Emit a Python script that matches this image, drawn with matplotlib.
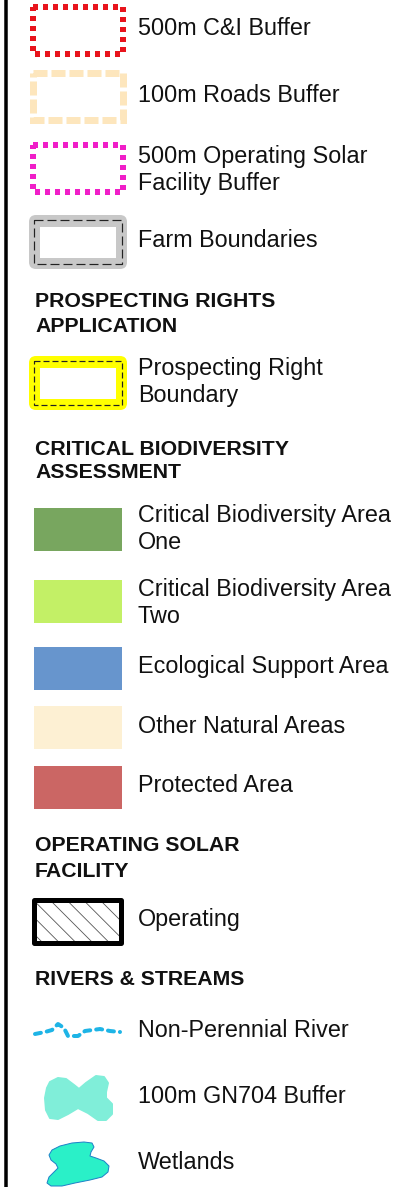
import numpy as np
import matplotlib
matplotlib.use("Agg")
import matplotlib.pyplot as plt
from matplotlib.patches import Rectangle, FancyBboxPatch, Polygon

plt.rcParams['font.family'] = ['Liberation Sans', 'DejaVu Sans']
plt.rcParams['lines.scale_dashes'] = False
plt.rcParams['hatch.linewidth'] = 0.6

# legend content
outline_labels = ["500m C&I Buffer", "100m Roads Buffer",
                  "500m Operating Solar\nFacility Buffer", "Farm Boundaries"]
outline_colors = ["#e8141c", "#fde6bd", "#f01ec8", "#c8c8c8"]

headings = ["PROSPECTING RIGHTS\nAPPLICATION", "CRITICAL BIODIVERSITY\nASSESSMENT",
            "OPERATING SOLAR\nFACILITY", "RIVERS & STREAMS"]

prospect_label = "Prospecting Right\nBoundary"
prospect_color = "#ffff00"

cba_labels = ["Critical Biodiversity Area\nOne", "Critical Biodiversity Area\nTwo",
              "Ecological Support Area", "Other Natural Areas", "Protected Area"]
cba_colors = ["#78a65f", "#c3f066", "#6795cd", "#fdf0d3", "#cb6664"]

solar_label = "Operating"

river_labels = ["Non-Perennial River", "100m GN704 Buffer", "Wetlands"]
river_colors = ["#1eb4e6", "#80eed9", "#2af0c8"]

# layout (pixels, y down)
W, H = 414, 1187
TX = 138
PX = 0.72  # px -> pt at dpi 100
outline_tops = [7, 73, 145]
outline_base = [35, 102, 163, 247]
heading_base = [307, 455, 851, 985]
cba_tops = [508, 580, 647, 706, 766]
cba_base = [522, 596, 673, 733, 792]

fig = plt.figure(figsize=(W / 100, H / 100), dpi=100)
ax = fig.add_axes([0, 0, 1, 1])
ax.set_xlim(0, W)
ax.set_ylim(H, 0)
ax.axis('off')


def label(y, txt, bold=False, x=TX, step=27):
    for i, line in enumerate(txt.split("\n")):
        ax.text(x, y + i * step, line, va='baseline', ha='left',
                fontsize=15.3 if bold else 16.8,
                fontweight='bold' if bold else 'normal', color='#111111')


# left frame line
ax.plot([6.5, 6.5], [0, H], color='black', lw=3.5 * PX, solid_capstyle='butt')

# dashed buffer outlines
dash_styles = [(0, (5 * PX, 5 * PX)), (0, (14 * PX, 4 * PX)), (0, (5 * PX, 5 * PX))]
line_w = [6, 7, 6]
for i in range(3):
    ax.add_patch(Rectangle((33, outline_tops[i]), 90, 47, fill=False,
                           edgecolor=outline_colors[i], lw=line_w[i] * PX,
                           linestyle=dash_styles[i], capstyle='butt'))
    label(outline_base[i], outline_labels[i])


def boundary(top, color, dash):
    ax.add_patch(FancyBboxPatch((29, top + 1), 98, 54, boxstyle="round,pad=0,rounding_size=7",
                                facecolor=color, edgecolor='none'))
    ax.add_patch(Rectangle((40, top + 13), 76, 31, facecolor='white', edgecolor='none'))
    ax.add_patch(Rectangle((34, top + 6), 88, 44, fill=False, edgecolor='#222222',
                           lw=1.2 * PX, linestyle=dash))


boundary(214, outline_colors[3], (0, (9 * PX, 4 * PX)))
label(outline_base[3], outline_labels[3])

# prospecting rights
label(heading_base[0], headings[0], bold=True, x=35, step=25)
boundary(355, prospect_color, (0, (6 * PX, 3 * PX)))
label(375, prospect_label)

# critical biodiversity
label(heading_base[1], headings[1], bold=True, x=35, step=23)
for top, base, c, t in zip(cba_tops, cba_base, cba_colors, cba_labels):
    ax.add_patch(Rectangle((34, top), 88, 43, facecolor=c, edgecolor='none'))
    label(base, t)

# operating solar
label(heading_base[2], headings[2], bold=True, x=35, step=26)
ax.add_patch(Rectangle((34.5, 899.5), 87, 43, facecolor='white', edgecolor='#555555',
                       lw=0, hatch='\\\\'))
ax.add_patch(Rectangle((34.5, 899.5), 87, 43, fill=False, edgecolor='black',
                       lw=5 * PX, joinstyle='round'))
label(926, solar_label)

# rivers & streams
label(heading_base[3], headings[3], bold=True, x=35)
river_x = [35, 45, 52, 58, 64, 68, 78, 85, 100, 110, 120]
river_y = [1034, 1032, 1030, 1024, 1028, 1036, 1036, 1031, 1029, 1031, 1032]
ax.plot(river_x, river_y, color=river_colors[0], lw=4 * PX,
        linestyle=(0, (6 * PX, 6 * PX)), solid_capstyle='round', dash_capstyle='round')
label(1037, river_labels[0])

gn_shape = [(50, 1082), (58, 1078), (66, 1079), (74, 1085), (79, 1089), (86, 1083),
            (96, 1076), (104, 1077), (108, 1083), (106, 1092), (106, 1098), (112, 1104),
            (112, 1114), (106, 1120), (98, 1120), (88, 1113), (78, 1108), (68, 1114),
            (58, 1119), (50, 1118), (46, 1110), (45, 1098), (47, 1088)]
ax.add_patch(Polygon(gn_shape, closed=True, facecolor=river_colors[1], edgecolor=river_colors[1],
                     lw=2 * PX, joinstyle='round'))
label(1103, river_labels[1])

wet_shape = [(52, 1150), (60, 1146), (72, 1143), (84, 1142), (92, 1143), (94, 1147),
             (91, 1152), (90, 1156), (96, 1158), (104, 1161), (109, 1166), (108, 1172),
             (102, 1177), (90, 1180), (75, 1183), (62, 1186), (51, 1186), (47, 1183),
             (49, 1177), (54, 1172), (58, 1168), (56, 1164), (51, 1160), (49, 1155)]
ax.add_patch(Polygon(wet_shape, closed=True, facecolor=river_colors[2], edgecolor='#1e82c8',
                     lw=1 * PX, joinstyle='round'))
label(1169, river_labels[2])

fig.savefig("out.png", dpi=100, facecolor='white')
